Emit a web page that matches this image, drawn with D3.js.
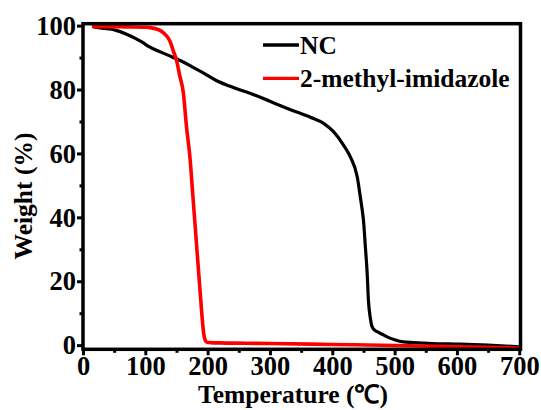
<!DOCTYPE html>
<html>
<head>
<meta charset="utf-8">
<script src="https://cdn.jsdelivr.net/npm/d3@7"></script>
<style>
  html, body { margin: 0; padding: 0; background: #fff; }
  svg { display: block; }
</style>
</head>
<body>
<svg id="chart" width="541" height="410"></svg>
<script>
// TGA curves: temperature (°C) vs remaining weight (%)
const ncTemp = [17, 30, 52, 70, 84, 95, 106, 125, 143, 160, 175, 195, 213, 235, 256, 270, 300, 333, 365, 386, 402, 418, 429, 440, 445, 448, 450, 453, 456, 458, 461, 464, 468, 472, 480, 488, 500, 514, 530, 560, 605, 650, 700];
const ncWeight = [99.6, 99.2, 98.6, 97.3, 96.0, 94.8, 93.4, 91.7, 90.2, 88.7, 87.1, 85.0, 82.9, 81.1, 79.6, 78.7, 76.3, 73.7, 71.3, 69.4, 66.8, 62.6, 58.9, 52.7, 46.4, 42.3, 39.1, 31.0, 22.4, 14.0, 8.5, 5.7, 4.7, 4.2, 3.4, 2.6, 1.7, 1.0, 0.8, 0.5, 0.3, 0.0, -0.5];

const miTemp = [17, 40, 70, 100, 110, 120, 127, 133, 137, 141, 145, 150, 155, 161, 166, 172, 176, 180, 184, 188, 191, 193.5, 196, 199, 205, 220, 260, 300, 400, 500, 600, 700];
const miWeight = [99.7, 99.7, 99.6, 99.5, 99.3, 98.8, 98.1, 97.0, 96.0, 94.4, 92.0, 89.2, 84.5, 79.0, 68.5, 57.9, 47.5, 37.2, 26.8, 16.5, 9.0, 3.9, 1.6, 0.9, 0.8, 0.7, 0.6, 0.5, 0.2, -0.1, -0.5, -0.9];

const seriesNames = ["NC", "2-methyl-imidazole"];
const seriesColors = ["#000000", "#ff0000"];

const xTicks = [0, 100, 200, 300, 400, 500, 600, 700];
const xMinorTicks = [50, 150, 250, 350, 450, 550, 650];
const yTicks = [0, 20, 40, 60, 80, 100];
const yMinorTicks = [10, 30, 50, 70, 90];

const xLabel = "Temperature (\u2103)";
const yLabel = "Weight (%)";

const FONT = '"Liberation Serif", "Times New Roman", serif';

const svg = d3.select("#chart");
const plotLeft = 83, plotRight = 520.5, plotTop = 23.7, plotBottom = 349.3;

const x = d3.scaleLinear().domain([0, 702]).range([plotLeft, plotRight]);
const y = d3.scaleLinear().domain([-1.3, 100.6]).range([plotBottom, plotTop]);

function styleText(sel, size) {
  return sel.style("font-family", FONT)
    .style("font-weight", "bold")
    .style("font-size", size + "px")
    .attr("fill", "#000");
}

// curves
const line = d3.line().x(d => x(d[0])).y(d => y(d[1])).curve(d3.curveMonotoneX);
const series = [
  d3.zip(ncTemp, ncWeight),
  d3.zip(miTemp, miWeight)
];
svg.append("defs").append("clipPath").attr("id", "plotClip")
  .append("rect").attr("x", plotLeft).attr("y", plotTop)
  .attr("width", plotRight - plotLeft).attr("height", plotBottom - plotTop);

const plot = svg.append("g").attr("clip-path", "url(#plotClip)");
series.forEach((s, i) => {
  plot.append("path")
    .datum(s)
    .attr("d", line)
    .attr("fill", "none")
    .attr("stroke", seriesColors[i])
    .attr("stroke-width", i === 0 ? 3.2 : 3.6)
    .attr("stroke-linejoin", "round")
    .attr("stroke-linecap", "round");
});

// axes
const xAxis = svg.append("g").attr("transform", `translate(0,${plotBottom})`)
  .call(d3.axisBottom(x).tickValues(xTicks).tickSize(6).tickPadding(1).tickFormat(d3.format("d")));
const xMinor = svg.append("g").attr("transform", `translate(0,${plotBottom})`)
  .call(d3.axisBottom(x).tickValues(xMinorTicks).tickSize(3.5).tickFormat(""));
const yAxis = svg.append("g").attr("transform", `translate(${plotLeft},0)`)
  .call(d3.axisLeft(y).tickValues(yTicks).tickSize(6).tickPadding(1).tickFormat(d3.format("d")));
const yMinor = svg.append("g").attr("transform", `translate(${plotLeft},0)`)
  .call(d3.axisLeft(y).tickValues(yMinorTicks).tickSize(3.5).tickFormat(""));

[xAxis, xMinor, yAxis, yMinor].forEach(g => {
  g.attr("font-family", null).attr("font-size", null);
  g.select(".domain").remove();
  g.selectAll(".tick line").attr("stroke", "#000").attr("stroke-width", 3);
  styleText(g.selectAll(".tick text"), 26.5);
});
xAxis.selectAll(".tick text").attr("dy", "0.72em");
yAxis.selectAll(".tick text").attr("dy", "0.33em");

// frame
svg.append("rect")
  .attr("x", plotLeft).attr("y", plotTop)
  .attr("width", plotRight - plotLeft).attr("height", plotBottom - plotTop)
  .attr("fill", "none").attr("stroke", "#000").attr("stroke-width", 3.5);

// axis titles
styleText(svg.append("text"), 25.5)
  .attr("x", 293).attr("y", 403)
  .attr("text-anchor", "middle")
  .text(xLabel);

styleText(svg.append("text"), 25.5)
  .attr("transform", `translate(32,196) rotate(-90)`)
  .attr("text-anchor", "middle")
  .text(yLabel);

// legend
const legendY = [45, 78.3];
const legend = svg.append("g");
seriesNames.forEach((name, i) => {
  legend.append("line")
    .attr("x1", 263).attr("x2", 299)
    .attr("y1", legendY[i]).attr("y2", legendY[i])
    .attr("stroke", seriesColors[i]).attr("stroke-width", 3.3);
  styleText(legend.append("text"), 25.5)
    .attr("x", 300).attr("y", legendY[i] + 8.5)
    .text(name);
});
</script>
</body>
</html>
